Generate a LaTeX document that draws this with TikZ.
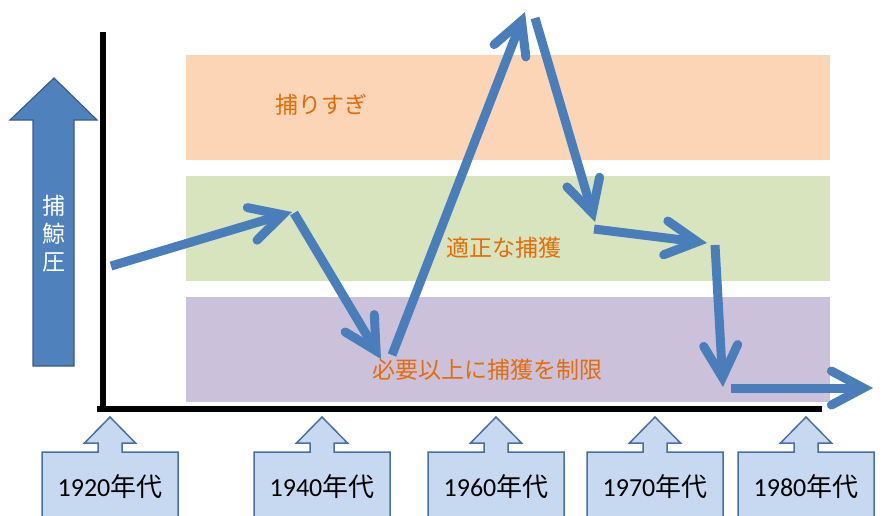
\documentclass[tikz,border=0pt]{standalone}
\usepackage{fontspec}
\setmainfont{Carlito}
\newfontfamily\cjk{Noto Sans CJK JP}
\usetikzlibrary{arrows.meta}
\definecolor{bandorange}{HTML}{FBD5B5}
\definecolor{bandgreen}{HTML}{D7E4BD}
\definecolor{bandpurple}{HTML}{CCC1DA}
\definecolor{labelorange}{HTML}{E46C0A}
\definecolor{flowblue}{HTML}{4A7EBB}
\definecolor{bigfill}{HTML}{4F81BD}
\definecolor{bigborder}{HTML}{385D8A}
\definecolor{calloutfill}{HTML}{C6D9F1}
\definecolor{calloutborder}{HTML}{4A6FA3}
\tikzset{
  band/.style={draw=none},
  bandlabel/.style={text=labelorange, font=\cjk\fontsize{23}{27}\selectfont, inner sep=0pt},
  axisline/.style={line width=6pt, black},
  flow/.style={line width=9pt, flowblue, -{Straight Barb[length=32pt, width=34pt, line cap=round, line join=miter]}},
  callout/.style={fill=calloutfill, draw=calloutborder, line width=1.5pt, line join=miter},
  yearlabel/.style={font=\fontsize{26}{30}\selectfont, inner sep=0pt, text=black},
}
\begin{document}
\begin{tikzpicture}[x=1pt, y=-1pt]
\useasboundingbox (0,0) rectangle (890,515);
\clip (0,0) rectangle (890,515);
% bands
\fill[bandorange] (186,55) rectangle (830,160);
\fill[bandgreen] (186,176) rectangle (830,281);
\fill[bandpurple] (186,297) rectangle (830,402);
\node[bandlabel] (over) at (321,105) {捕りすぎ};
\node[bandlabel] (proper) at (504,248) {適正な捕獲};
\node[bandlabel] (limit) at (487,370) {必要以上に捕獲を制限};
% axes
\coordinate (ytop) at (102.5,32);
\coordinate (origin) at (102.5,409);
\coordinate (xend) at (822,409);
\draw[axisline] (ytop) -- (102.5,412);
\draw[axisline] (97,409) -- (xend);
% big pressure arrow
\draw[fill=bigfill, draw=bigborder, line width=1.2pt, line join=miter]
  (33,366) -- (33,120) -- (10,120) -- (54,78) -- (97,120) -- (74,120) -- (74,366) -- cycle;
\node[text=white, font=\cjk\fontsize{23}{28}\selectfont, align=center, inner sep=0pt] (pressure) at (54,234) {捕\\鯨\\圧};
% year callouts
\foreach \cx/\yr/\nm in {110/1920/y1920, 322/1940/y1940, 496/1960/y1960, 655/1970/y1970, 806/1980/y1980}{
  \draw[callout] (\cx-68,530) -- (\cx-68,452) -- (\cx-12,452) -- (\cx-12,443) -- (\cx-25.5,443)
    -- (\cx,417) -- (\cx+25.5,443) -- (\cx+12,443) -- (\cx+12,452) -- (\cx+68,452) -- (\cx+68,530);
  \node[yearlabel] (\nm) at (\cx,487) {\yr{\cjk 年代}};
}
% flow arrows
\coordinate (p0) at (111,266);
\coordinate (p1) at (292,212);
\coordinate (p1s) at (294,213);
\coordinate (p2) at (381,359);
\coordinate (p2s) at (392,355);
\coordinate (p3) at (525,12);
\coordinate (p3s) at (535,18);
\coordinate (p4) at (595,222);
\coordinate (p4s) at (594,229);
\coordinate (p5) at (707,243);
\coordinate (p5s) at (715,245);
\coordinate (p6) at (723,387);
\coordinate (p6s) at (731,388);
\coordinate (p7) at (873,388);
\draw[flow] (p0) -- (p1);
\draw[flow] (p1s) -- (p2);
\draw[flow] (p2s) -- (p3);
\draw[flow] (p3s) -- (p4);
\draw[flow] (p4s) -- (p5);
\draw[flow] (p5s) -- (p6);
\draw[flow] (p6s) -- (p7);
\end{tikzpicture}
\end{document}
